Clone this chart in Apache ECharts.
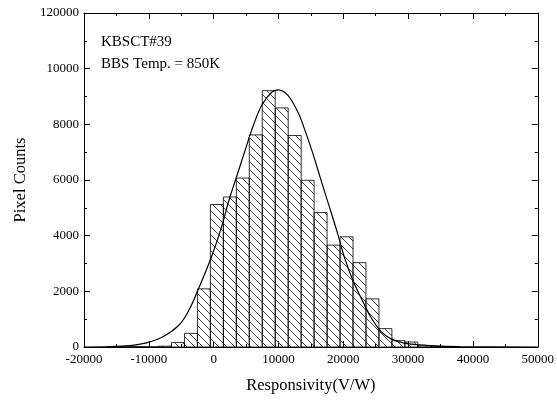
<!DOCTYPE html>
<html><head><meta charset="utf-8">
<script src="https://cdn.jsdelivr.net/npm/echarts@6/dist/echarts.min.js"></script>
<style>html,body{margin:0;padding:0;background:#fff}#c{width:557px;height:403px}</style>
</head><body><div id="c"></div>
<script>
// Histogram bins (bin centres, V/W) and pixel counts
const binCenters = [-13500, -11500, -9500, -7500, -5500, -3500, -1500, 500, 2500, 4500, 6500, 8500, 10500, 12500, 14500, 16500, 18500, 20500, 22500, 24500, 26500, 28500, 30500, 32500, 34500];
const binCounts  = [10, 15, 10, 30, 160, 490, 2090, 5120, 5390, 6070, 7620, 9210, 8590, 7600, 5990, 4830, 3660, 3960, 3030, 1730, 660, 230, 180, 40, 20];
const binWidth = 2000;
// Fitted curve
const curveX = [-20000, -16000, -13000, -10400, -7900, -5300, -3800, -2500, -400, 1200, 2400, 3600, 4900, 6200, 7500, 9000, 10000, 11500, 13100, 14100, 15100, 16100, 17200, 18200, 19200, 20200, 21500, 23300, 24300, 25800, 27300, 29400, 33500, 38000, 50000];
const curveY = [0, 12, 50, 150, 360, 800, 1330, 2000, 3200, 4300, 5300, 6160, 7100, 8010, 8720, 9160, 9240, 9030, 8390, 7775, 7100, 6350, 5520, 4780, 4020, 3200, 2380, 1500, 1050, 560, 300, 140, 50, 10, 0];
// Tick labels
const xTickLabels = ['-20000', '-10000', '0', '10000', '20000', '30000', '40000', '50000'];
const yTickLabels = ['0', '2000', '4000', '6000', '8000', '10000', '120000'];
const annotations = ['KBSCT#39', 'BBS Temp. = 850K'];

const FONT = "'Liberation Serif','Times New Roman',serif";

const cv = document.createElement('canvas');
cv.width = 8; cv.height = 8;
const cx = cv.getContext('2d');
cx.strokeStyle = '#333';
cx.lineWidth = 0.9;
cx.beginPath();
cx.moveTo(-1, -1); cx.lineTo(9, 9);
cx.moveTo(-1, 7); cx.lineTo(1, 9);
cx.moveTo(7, -1); cx.lineTo(9, 1);
cx.stroke();
const hatch = { image: cv, repeat: 'repeat' };

const chart = echarts.init(document.getElementById('c'), null, { renderer: 'canvas' });
function axisCommon() {
  return {
    axisLine: { show: true, onZero: false, lineStyle: { color: '#000', width: 1 } },
    axisTick: { show: true, inside: true, length: 6, lineStyle: { color: '#000' } },
    minorTick: { show: true, splitNumber: 2, length: 3, lineStyle: { color: '#000' } },
    splitLine: { show: false },
    minorSplitLine: { show: false }
  };
}
chart.setOption({
  animation: false,
  backgroundColor: '#fff',
  grid: { left: 84, right: 16, top: 13, bottom: 56 },
  xAxis: [
    Object.assign({
      type: 'value', min: -20000, max: 50000, interval: 10000, position: 'bottom',
      name: 'Responsivity(V/W)', nameLocation: 'middle', nameGap: 30,
      nameTextStyle: { fontFamily: FONT, fontSize: 16.5, color: '#000' },
      axisLabel: { fontFamily: FONT, fontSize: 13, color: '#000', margin: 6,
        formatter: (v) => xTickLabels[Math.round((v + 20000) / 10000)] }
    }, axisCommon()),
    Object.assign({
      type: 'value', min: -20000, max: 50000, interval: 10000, position: 'top',
      axisLabel: { show: false }
    }, axisCommon())
  ],
  yAxis: [
    Object.assign({
      type: 'value', min: 0, max: 12000, interval: 2000, position: 'left',
      name: 'Pixel Counts', nameLocation: 'middle', nameGap: 55,
      nameTextStyle: { fontFamily: FONT, fontSize: 16.5, color: '#000' },
      axisLabel: { fontFamily: FONT, fontSize: 13, color: '#000', margin: 5,
        formatter: (v) => yTickLabels[Math.round(v / 2000)] }
    }, axisCommon()),
    Object.assign({
      type: 'value', min: 0, max: 12000, interval: 2000, position: 'right',
      axisLabel: { show: false }
    }, axisCommon())
  ],
  graphic: [
    { type: 'text', left: 101, top: 35, style: { text: annotations[0], font: '15px ' + FONT, fill: '#000' } },
    { type: 'text', left: 101, top: 57, style: { text: annotations[1], font: '15px ' + FONT, fill: '#000' } }
  ],
  series: [
    {
      type: 'custom',
      xAxisIndex: 0, yAxisIndex: 0,
      data: binCenters.map((c, i) => [c, binCounts[i]]),
      encode: { x: 0, y: 1 },
      renderItem: function (params, api) {
        const c = api.value(0), h = api.value(1);
        const p0 = api.coord([c - binWidth / 2, h]);
        const p1 = api.coord([c + binWidth / 2, 0]);
        return {
          type: 'rect',
          shape: { x: p0[0], y: p0[1], width: p1[0] - p0[0], height: p1[1] - p0[1] },
          style: { fill: hatch, stroke: '#000', lineWidth: 0.8 }
        };
      },
      z: 2
    },
    {
      type: 'line',
      xAxisIndex: 0, yAxisIndex: 0,
      data: curveX.map((x, i) => [x, curveY[i]]),
      smooth: 0.35,
      showSymbol: false,
      lineStyle: { color: '#000', width: 1.2 },
      z: 3
    }
  ]
});
</script>
</body></html>
